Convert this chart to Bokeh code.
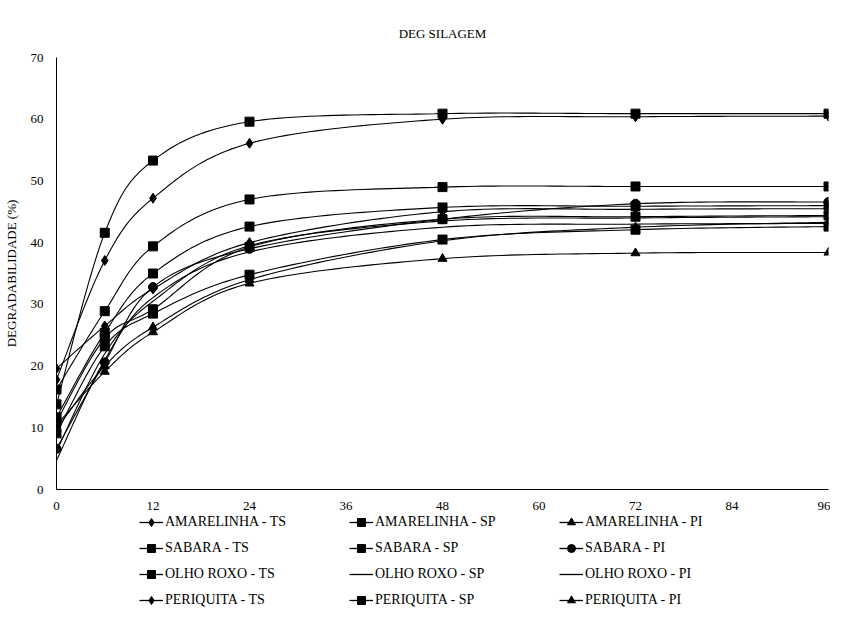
import numpy as np
from bokeh.plotting import figure
from bokeh.layouts import column
from bokeh.models import Legend, LegendItem, FixedTicker, Range1d
from bokeh.embed import file_html
from bokeh.resources import INLINE

# ---- data ----
hours = [0, 6, 12, 24, 48, 72, 96]
x_ticks = [0, 12, 24, 36, 48, 60, 72, 84, 96]
y_ticks = [0, 10, 20, 30, 40, 50, 60, 70]

amarelinha_ts = [17.8, 37.1, 47.2, 56.1, 60.0, 60.4, 60.5]
amarelinha_sp = [13.8, 41.6, 53.3, 59.6, 60.9, 60.9, 60.9]
amarelinha_pi = [10.4, 19.1, 25.5, 33.4, 37.4, 38.3, 38.4]
sabara_ts = [16.2, 28.9, 39.4, 47.0, 49.0, 49.1, 49.1]
sabara_sp = [11.7, 25.4, 35.0, 42.6, 45.7, 45.9, 46.0]
sabara_pi = [6.6, 20.6, 32.8, 39.0, 43.8, 46.3, 46.6]
olho_roxo_ts = [9.1, 23.2, 28.5, 34.8, 40.5, 42.1, 42.6]
olho_roxo_sp = [4.7, 21.0, 31.1, 38.5, 42.5, 43.0, 43.1]
olho_roxo_pi = [6.2, 22.0, 30.5, 39.5, 43.5, 44.0, 44.2]
periquita_ts = [19.6, 26.5, 32.5, 40.0, 45.0, 45.4, 45.5]
periquita_sp = [11.0, 24.5, 29.2, 39.3, 43.8, 44.2, 44.4]
periquita_pi = [9.8, 20.0, 26.3, 34.0, 40.3, 42.5, 43.3]

series = [
    ("AMARELINHA - TS", amarelinha_ts, "diamond"),
    ("AMARELINHA - SP", amarelinha_sp, "square"),
    ("AMARELINHA - PI", amarelinha_pi, "triangle"),
    ("SABARA - TS", sabara_ts, "square"),
    ("SABARA - SP", sabara_sp, "square"),
    ("SABARA - PI", sabara_pi, "circle"),
    ("OLHO ROXO - TS", olho_roxo_ts, "square"),
    ("OLHO ROXO - SP", olho_roxo_sp, None),
    ("OLHO ROXO - PI", olho_roxo_pi, None),
    ("PERIQUITA - TS", periquita_ts, "diamond"),
    ("PERIQUITA - SP", periquita_sp, "square"),
    ("PERIQUITA - PI", periquita_pi, "triangle"),
]

FONT = "Liberation Serif"
MARKER_SIZE = {"square": 9, "diamond": 10, "triangle": 9, "circle": 9}


def smooth(xs, ys, n=24):
    """Excel-like smoothed line (Catmull-Rom Bezier) through the data points."""
    pts = np.column_stack([xs, ys]).astype(float)
    P = np.vstack([pts[0], pts, pts[-1]])
    out = []
    t = np.linspace(0, 1, n)[:, None]
    for i in range(len(pts) - 1):
        p0, p1, p2, p3 = P[i], P[i + 1], P[i + 2], P[i + 3]
        c1 = p1 + (p2 - p0) / 6.0
        c2 = p2 - (p3 - p1) / 6.0
        b = (1 - t) ** 3 * p1 + 3 * (1 - t) ** 2 * t * c1 + 3 * (1 - t) * t ** 2 * c2 + t ** 3 * p2
        out.append(b if i == 0 else b[1:])
    s = np.vstack(out)
    return s[:, 0], s[:, 1]


# ---- main chart ----
p = figure(width=830, height=515, output_backend="svg", toolbar_location=None,
           x_range=Range1d(0, 96), y_range=Range1d(0, 70),
           min_border_left=49, min_border_right=2, min_border_top=57, min_border_bottom=26)

p.title.text = "DEG SILAGEM"
p.title.align = "center"
p.title.text_font = FONT
p.title.text_font_size = "13px"
p.title.text_font_style = "normal"
p.title.text_color = "#000000"
p.title.standoff = 34

p.xgrid.visible = False
p.ygrid.visible = False
p.outline_line_color = None
p.background_fill_color = "white"
p.border_fill_color = "white"

for ax in (p.xaxis[0], p.yaxis[0]):
    ax.axis_line_color = "black"
    ax.axis_line_width = 1
    ax.major_tick_line_color = None
    ax.minor_tick_line_color = None
    ax.major_label_text_font = FONT
    ax.major_label_text_font_size = "13px"
    ax.major_label_text_color = "#000000"

p.xaxis.ticker = FixedTicker(ticks=x_ticks)
p.yaxis.ticker = FixedTicker(ticks=y_ticks)
p.xaxis.major_label_standoff = 6
p.yaxis.major_label_standoff = 7
p.yaxis.axis_label = "DEGRADABILIDADE (%)"
p.yaxis.axis_label_text_font = FONT
p.yaxis.axis_label_text_font_size = "13px"
p.yaxis.axis_label_text_font_style = "normal"
p.yaxis.axis_label_text_color = "#000000"
p.yaxis.axis_label_standoff = 9

for name, vals, marker in series:
    sx, sy = smooth(hours, vals)
    p.line(sx, sy, line_color="black", line_width=1.1)
    if marker is not None:
        p.scatter(hours, vals, marker=marker, size=MARKER_SIZE[marker],
                  fill_color="black", line_color="black")

# ---- legend strip (separate figure so it is not clipped by the chart frame) ----
# its glyph renderers carry the same series but the view range excludes them,
# so only the legend is visible
lg = figure(width=830, height=96, output_backend="svg", toolbar_location=None,
            x_range=Range1d(-200, -100), y_range=Range1d(-200, -100),
            min_border_left=49, min_border_right=2, min_border_top=0, min_border_bottom=0)
lg.axis.visible = False
lg.xgrid.visible = False
lg.ygrid.visible = False
lg.outline_line_color = None

items = {}
for name, vals, marker in series:
    rs = [lg.line(hours, vals, line_color="black", line_width=1.3)]
    if marker is not None:
        rs.append(lg.scatter(hours, vals, marker=marker, fill_color="black", line_color="black"))
    items[name] = LegendItem(label=name, renderers=rs)

names = [s[0] for s in series]
ordered = [items[n] for n in names[0::3]] + [items[n] for n in names[1::3]] + [items[n] for n in names[2::3]]

legend = Legend(items=ordered, ncols=3, location=(83, 1),
                label_text_font=FONT, label_text_font_size="14px",
                label_text_color="#000000",
                glyph_width=24, glyph_height=20, label_height=20,
                label_width=178, label_standoff=2, spacing=6,
                padding=0, margin=0, border_line_color=None,
                background_fill_alpha=0)
lg.add_layout(legend, "center")

layout = column(p, lg, spacing=0)
open("out.html", "w").write(file_html(layout, INLINE))
